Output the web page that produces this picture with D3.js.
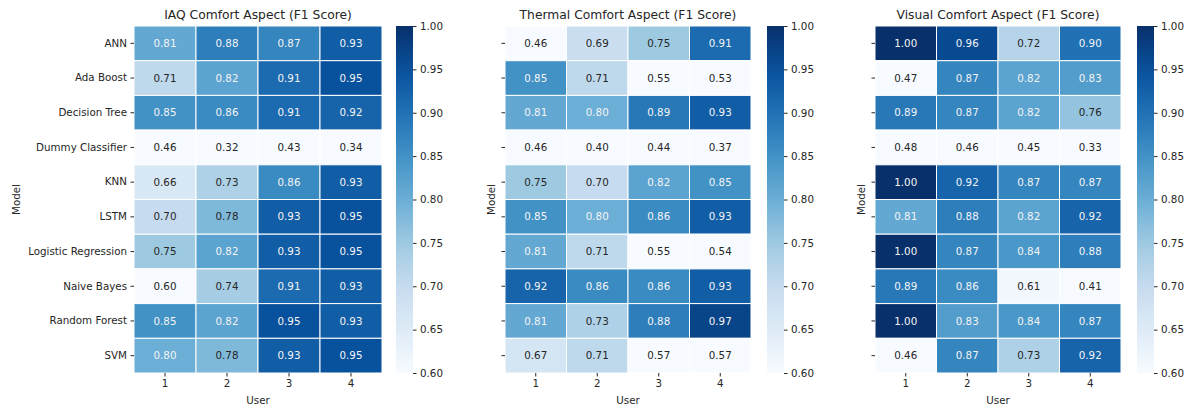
<!DOCTYPE html>
<html>
<head>
<meta charset="utf-8">
<script src="https://cdn.jsdelivr.net/npm/d3@7"></script>
<style>
    body { margin: 0; background: #fff; }
    svg text { font-family: "DejaVu Sans", sans-serif; }
</style>
</head>
<body>
<svg id="chart" width="1194" height="410"></svg>
<script>
// Models (rows) and users (columns)
const models = ["ANN", "Ada Boost", "Decision Tree", "Dummy Classifier", "KNN", "LSTM",
    "Logistic Regression", "Naive Bayes", "Random Forest", "SVM"];
const users = ["1", "2", "3", "4"];

const iaqScores = [
    [0.81, 0.88, 0.87, 0.93],
    [0.71, 0.82, 0.91, 0.95],
    [0.85, 0.86, 0.91, 0.92],
    [0.46, 0.32, 0.43, 0.34],
    [0.66, 0.73, 0.86, 0.93],
    [0.70, 0.78, 0.93, 0.95],
    [0.75, 0.82, 0.93, 0.95],
    [0.60, 0.74, 0.91, 0.93],
    [0.85, 0.82, 0.95, 0.93],
    [0.80, 0.78, 0.93, 0.95]
];
const thermalScores = [
    [0.46, 0.69, 0.75, 0.91],
    [0.85, 0.71, 0.55, 0.53],
    [0.81, 0.80, 0.89, 0.93],
    [0.46, 0.40, 0.44, 0.37],
    [0.75, 0.70, 0.82, 0.85],
    [0.85, 0.80, 0.86, 0.93],
    [0.81, 0.71, 0.55, 0.54],
    [0.92, 0.86, 0.86, 0.93],
    [0.81, 0.73, 0.88, 0.97],
    [0.67, 0.71, 0.57, 0.57]
];
const visualScores = [
    [1.00, 0.96, 0.72, 0.90],
    [0.47, 0.87, 0.82, 0.83],
    [0.89, 0.87, 0.82, 0.76],
    [0.48, 0.46, 0.45, 0.33],
    [1.00, 0.92, 0.87, 0.87],
    [0.81, 0.88, 0.82, 0.92],
    [1.00, 0.87, 0.84, 0.88],
    [0.89, 0.86, 0.61, 0.41],
    [1.00, 0.83, 0.84, 0.87],
    [0.46, 0.87, 0.73, 0.92]
];
const colorTicks = [0.60, 0.65, 0.70, 0.75, 0.80, 0.85, 0.90, 0.95, 1.00];

// matplotlib "Blues" (linear segments)
const bluesStops = ["#f7fbff", "#deebf7", "#c6dbef", "#9ecae1", "#6baed6",
    "#4292c6", "#2171b5", "#08519c", "#08306b"];
const vmin = 0.6, vmax = 1.0;
const color = d3.scaleLinear()
    .domain(bluesStops.map((d, i) => vmin + (vmax - vmin) * i / (bluesStops.length - 1)))
    .range(bluesStops)
    .clamp(true);

function luminance(c) {
    const rgb = d3.rgb(c);
    const f = v => { v = v / 255; return v <= 0.03928 ? v / 12.92 : Math.pow((v + 0.055) / 1.055, 2.4); };
    return 0.2126 * f(rgb.r) + 0.7152 * f(rgb.g) + 0.0722 * f(rgb.b);
}

const svg = d3.select("#chart");
const textColor = "#262626";
const plotTop = 26, plotBottom = 373;
const fs = 10.3;

const panels = [
    { title: "IAQ Comfort Aspect (F1 Score)", data: iaqScores, x0: 134, x1: 382, cb: 396, labels: true, modelX: 16 },
    { title: "Thermal Comfort Aspect (F1 Score)", data: thermalScores, x0: 505, x1: 751, cb: 767, labels: false, modelX: 491 },
    { title: "Visual Comfort Aspect (F1 Score)", data: visualScores, x0: 875, x1: 1121, cb: 1137, labels: false, modelX: 861 }
];

const defs = svg.append("defs");

panels.forEach((p, pi) => {
    const x = d3.scaleBand().domain(users).range([p.x0, p.x1]);
    const y = d3.scaleBand().domain(models).range([plotTop, plotBottom]);
    const g = svg.append("g");

    const cells = [];
    p.data.forEach((row, i) => row.forEach((v, j) => cells.push({ model: models[i], user: users[j], value: v })));

    g.selectAll("rect.cell")
        .data(cells)
        .enter().append("rect")
        .attr("class", "cell")
        .attr("x", d => x(d.user))
        .attr("y", d => y(d.model))
        .attr("width", x.bandwidth())
        .attr("height", y.bandwidth())
        .attr("fill", d => color(d.value))
        .attr("stroke", "#fff")
        .attr("stroke-width", 1);

    g.selectAll("text.val")
        .data(cells)
        .enter().append("text")
        .attr("class", "val")
        .attr("x", d => x(d.user) + x.bandwidth() / 2)
        .attr("y", d => y(d.model) + y.bandwidth() / 2)
        .attr("dy", "0.35em")
        .attr("text-anchor", "middle")
        .attr("font-size", fs)
        .attr("fill", d => luminance(color(d.value)) > 0.408 ? textColor : "#f4f4f4")
        .text(d => d.value.toFixed(2));

    // title
    g.append("text")
        .attr("x", (p.x0 + p.x1) / 2)
        .attr("y", 19)
        .attr("text-anchor", "middle")
        .attr("font-size", 12.3)
        .attr("fill", textColor)
        .text(p.title);

    // x axis
    const xAxis = g.append("g")
        .attr("transform", "translate(0," + plotBottom + ")")
        .call(d3.axisBottom(x).tickSize(3.5).tickPadding(3.5));
    xAxis.select(".domain").remove();
    xAxis.selectAll("text").attr("font-size", fs).attr("fill", textColor).style("font-family", "DejaVu Sans");
    xAxis.selectAll("line").attr("stroke", textColor);

    g.append("text")
        .attr("x", (p.x0 + p.x1) / 2)
        .attr("y", 404)
        .attr("text-anchor", "middle")
        .attr("font-size", fs)
        .attr("fill", textColor)
        .text("User");

    // y axis
    const yAxis = g.append("g")
        .attr("transform", "translate(" + p.x0 + ",0)")
        .call(d3.axisLeft(y).tickSize(3.5).tickPadding(3.5).tickFormat(p.labels ? null : ""));
    yAxis.select(".domain").remove();
    yAxis.selectAll("text").attr("font-size", fs).attr("fill", textColor).style("font-family", "DejaVu Sans");
    yAxis.selectAll("line").attr("stroke", textColor);

    g.append("text")
        .attr("transform", "translate(" + p.modelX + "," + ((plotTop + plotBottom) / 2) + ") rotate(-90)")
        .attr("dy", "0.35em")
        .attr("text-anchor", "middle")
        .attr("font-size", fs)
        .attr("fill", textColor)
        .text("Model");

    // colorbar
    const cbW = 17;
    const cy = d3.scaleLinear().domain([vmin, vmax]).range([plotBottom, plotTop]);
    const grad = defs.append("linearGradient")
        .attr("id", "grad" + pi)
        .attr("x1", 0).attr("y1", 1).attr("x2", 0).attr("y2", 0);
    d3.range(0, 1.0001, 0.05).forEach(t => {
        grad.append("stop")
            .attr("offset", t)
            .attr("stop-color", color(vmin + (vmax - vmin) * t));
    });
    g.append("rect")
        .attr("x", p.cb)
        .attr("y", plotTop)
        .attr("width", cbW)
        .attr("height", plotBottom - plotTop)
        .attr("fill", "url(#grad" + pi + ")");

    const cAxis = g.append("g")
        .attr("transform", "translate(" + (p.cb + cbW) + ",0)")
        .call(d3.axisRight(cy).tickValues(colorTicks).tickFormat(d3.format(".2f")).tickSize(3.5).tickPadding(3.5));
    cAxis.select(".domain").remove();
    cAxis.selectAll("text").attr("font-size", fs).attr("fill", textColor).style("font-family", "DejaVu Sans");
    cAxis.selectAll("line").attr("stroke", textColor);
});
</script>
</body>
</html>
